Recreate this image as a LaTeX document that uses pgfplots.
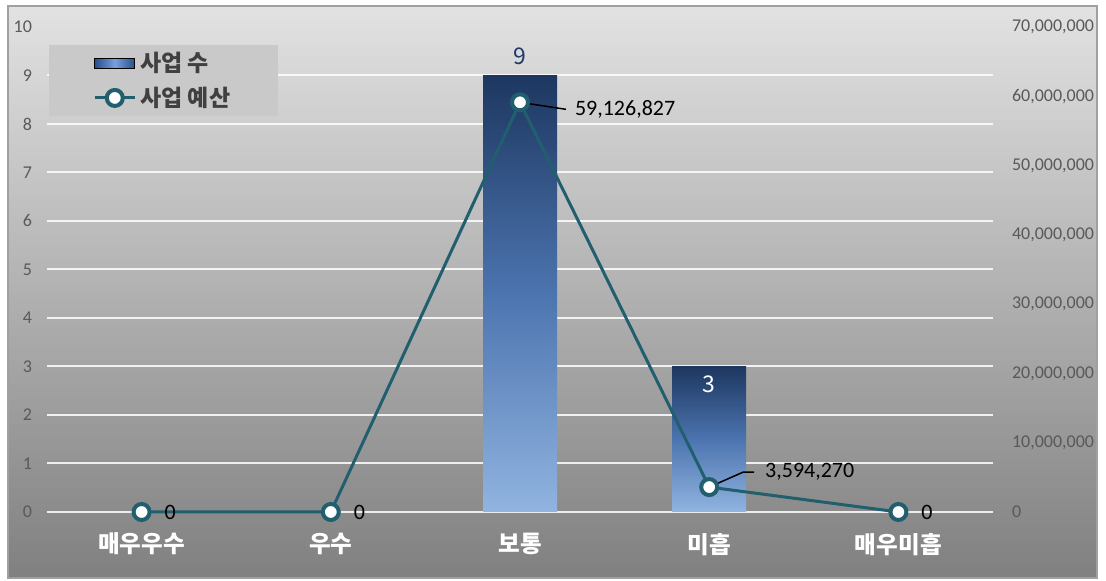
\documentclass[border=0pt]{standalone}
\usepackage{fontspec}
\setmainfont{Carlito}
\newfontfamily\kr{Noto Sans CJK KR}
\usepackage{pgfplots}
\usepackage{pgfplotstable}
\pgfplotsset{compat=1.18}

\definecolor{bgtop}{RGB}{226,226,226}
\definecolor{bgbot}{RGB}{128,128,128}
\definecolor{frameclr}{RGB}{160,160,160}
\definecolor{lineclr}{RGB}{33,95,110}
\definecolor{bartop}{RGB}{29,55,96}
\definecolor{barmid}{RGB}{76,116,175}
\definecolor{barbot}{RGB}{145,180,224}
\definecolor{legbarA}{RGB}{38,78,140}
\definecolor{legbarB}{RGB}{120,160,220}
\definecolor{legfill}{RGB}{201,201,201}
\definecolor{ticktext}{RGB}{89,89,89}
\definecolor{legtext}{RGB}{64,64,64}
\definecolor{lblnine}{RGB}{31,56,100}

\pgfplotsset{
  budgetlegend/.style={legend image code/.code={
    \draw[mark repeat=2, mark phase=2, ##1] plot coordinates {(0pt,0pt) (10pt,0pt) (20pt,0pt)};}},
  barlegend/.style={legend image code/.code={
    \shade[left color=legbarA, right color=legbarA, middle color=legbarB] (0pt,-2.6pt) rectangle (20pt,2.6pt);}},
}

% budget line: value, label, label offset (pt)
\pgfplotstableread{
x y lbl dx dy
0 0 0 10.5 0
1 0 0 10.5 0
2 59126827 59,126,827 26.5 -3.5
3 3594270 3,594,270 27 7.5
4 0 0 10.5 0
}\budget

\begin{document}
\begin{tikzpicture}
\useasboundingbox (0,0) rectangle (553pt,290.5pt);
\shade[top color=bgtop, bottom color=bgbot] (4pt,1.5pt) rectangle (548.5pt,287.5pt);
\draw[frameclr, line width=0.6pt] (4pt,1.5pt) rectangle (548.5pt,287.5pt);

% left axis: number of projects (bars)
\begin{axis}[
  scale only axis, width=473pt, height=242.5pt,
  at={(23.5pt,34.5pt)}, anchor=south west,
  xmin=-0.5, xmax=4.5, ymin=0, ymax=10,
  xtick={0,...,4},
  xticklabels={매우우수,우수,보통,미흡,매우미흡},
  ytick={0,...,9}, extra y ticks={10}, extra y tick style={grid=none},
  ymajorgrids, grid style={white, opacity=0.85, line width=1pt},
  axis y line*=left, axis x line*=bottom,
  axis line style={draw=none}, major tick length=0pt,
  /pgf/number format/assume math mode=true,
  yticklabel style={font=\fontsize{9}{11}\selectfont, text=ticktext, xshift=-4pt},
  xticklabel style={font=\kr\bfseries\fontsize{11.8}{14}\selectfont, text=white, yshift=-7pt},
  ybar, bar width=37pt, bar shift=0pt,
  clip=false,
]
\addplot[ybar, draw=none, top color=bartop, bottom color=barbot, middle color=barmid,
  nodes near coords,
  every node near coord/.append style={text=lblnine, font=\kr\fontsize{11.5}{13}\selectfont, yshift=2pt}]
  coordinates {(2,9)};
\addplot[ybar, draw=none, top color=bartop, bottom color=barbot, middle color=barmid,
  nodes near coords, nodes near coords align={below},
  every node near coord/.append style={text=white, font=\kr\fontsize{11.5}{13}\selectfont, yshift=-1pt}]
  coordinates {(3,3)};
\end{axis}

% right axis: budget (line)
\begin{axis}[
  scale only axis, width=473pt, height=242.5pt,
  at={(23.5pt,34.5pt)}, anchor=south west,
  xmin=-0.5, xmax=4.5, ymin=0, ymax=70000000,
  axis y line*=right, axis x line=none,
  axis line style={draw=none}, major tick length=0pt,
  ytick={0,10000000,20000000,30000000,40000000,50000000,60000000,70000000},
  scaled y ticks=false,
  /pgf/number format/assume math mode=true,
  yticklabel style={/pgf/number format/.cd, fixed, precision=0, 1000 sep={,}, /tikz/.cd,
    font=\fontsize{9}{11}\selectfont, text=ticktext, xshift=6pt},
  legend cell align=left,
  legend style={at={(0.002,0.963)}, anchor=north west, draw=none, fill=legfill,
    inner xsep=22pt, inner ysep=1.5pt, row sep=2pt,
    font=\kr\bfseries\fontsize{11.5}{13}\selectfont, text=legtext},
  clip=false,
]
\addlegendimage{barlegend}
\addlegendentry{사업 수}
\addplot[lineclr, line width=1.5pt, mark=*, mark size=4pt,
  mark options={fill=white, draw=lineclr, line width=2pt},
  budgetlegend,
  nodes near coords, point meta=explicit symbolic,
  visualization depends on={\thisrow{dx} \as \ldx},
  visualization depends on={\thisrow{dy} \as \ldy},
  nodes near coords align={anchor=west},
  every node near coord/.append style={inner sep=0pt, xshift=\ldx pt, yshift=\ldy pt,
    text=black, font=\fontsize{11}{13}\selectfont}]
  table[x=x, y=y, meta=lbl] {\budget};
\addlegendentry{사업 예산}
\draw[black, line width=0.75pt] (axis cs:2,59126827) -- ++(23pt,-3.5pt);
\draw[black, line width=0.75pt] (axis cs:3,3594270) -- ++(17pt,7.5pt) -- ++(5.5pt,0pt);
\end{axis}
\end{tikzpicture}
\end{document}
